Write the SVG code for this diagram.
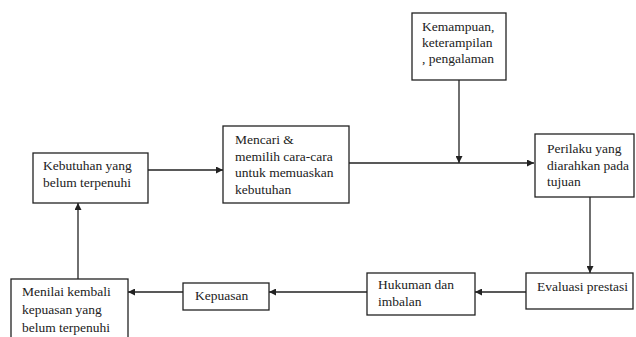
<svg xmlns="http://www.w3.org/2000/svg" width="636" height="337" viewBox="0 0 636 337">
<style>
.box{fill:#fff;stroke:#222;stroke-width:1.3}
.t{font-family:"Liberation Serif",serif;font-size:13.5px;fill:#222}
.c{fill:none;stroke:#222;stroke-width:1.3}
</style>
<defs>
<marker id="ah" viewBox="0 0 10 10" refX="10" refY="5" markerWidth="7" markerHeight="7" markerUnits="userSpaceOnUse" orient="auto">
<path d="M0,0 L10,5 L0,10 z" fill="#222"/>
</marker>
</defs>
<rect width="636" height="337" fill="#fff"/>
<g id="connectors">
<line class="c" x1="148" y1="170" x2="223" y2="170" marker-end="url(#ah)"/>
<line class="c" x1="349" y1="163" x2="534" y2="163" marker-end="url(#ah)"/>
<line class="c" x1="459" y1="80" x2="459" y2="163" marker-end="url(#ah)"/>
<line class="c" x1="590" y1="197" x2="590" y2="273" marker-end="url(#ah)"/>
<line class="c" x1="526" y1="292" x2="475" y2="292" marker-end="url(#ah)"/>
<line class="c" x1="367" y1="292" x2="269" y2="292" marker-end="url(#ah)"/>
<line class="c" x1="183" y1="292" x2="128" y2="292" marker-end="url(#ah)"/>
<line class="c" x1="78" y1="279" x2="78" y2="203" marker-end="url(#ah)"/>
</g>
<g id="kebutuhan">
<rect class="box" x="33" y="153" width="115" height="50"/>
<text class="t" x="43" y="170">Kebutuhan yang</text>
<text class="t" x="43" y="187">belum terpenuhi</text>
</g>
<g id="mencari">
<rect class="box" x="223" y="126" width="126" height="77"/>
<text class="t" x="235" y="144">Mencari &amp;</text>
<text class="t" x="235" y="160.5">memilih cara-cara</text>
<text class="t" x="235" y="177">untuk memuaskan</text>
<text class="t" x="235" y="193.5">kebutuhan</text>
</g>
<g id="kemampuan">
<rect class="box" x="412" y="13" width="94" height="67"/>
<text class="t" x="422" y="31">Kemampuan,</text>
<text class="t" x="422" y="47">keterampilan</text>
<text class="t" x="422" y="63">, pengalaman</text>
</g>
<g id="perilaku">
<rect class="box" x="535" y="134" width="99" height="63"/>
<text class="t" x="547" y="153">Perilaku yang</text>
<text class="t" x="547" y="170">diarahkan pada</text>
<text class="t" x="547" y="186">tujuan</text>
</g>
<g id="evaluasi">
<rect class="box" x="526" y="273" width="107" height="36"/>
<text class="t" x="537" y="291">Evaluasi prestasi</text>
</g>
<g id="hukuman">
<rect class="box" x="367" y="273" width="108" height="42"/>
<text class="t" x="378" y="289">Hukuman dan</text>
<text class="t" x="378" y="306">imbalan</text>
</g>
<g id="kepuasan">
<rect class="box" x="183" y="283" width="86" height="27"/>
<text class="t" x="195" y="300">Kepuasan</text>
</g>
<g id="menilai">
<rect class="box" x="11" y="279" width="117" height="62"/>
<text class="t" x="22" y="296">Menilai kembali</text>
<text class="t" x="22" y="314">kepuasan yang</text>
<text class="t" x="22" y="332">belum terpenuhi</text>
</g>
</svg>
